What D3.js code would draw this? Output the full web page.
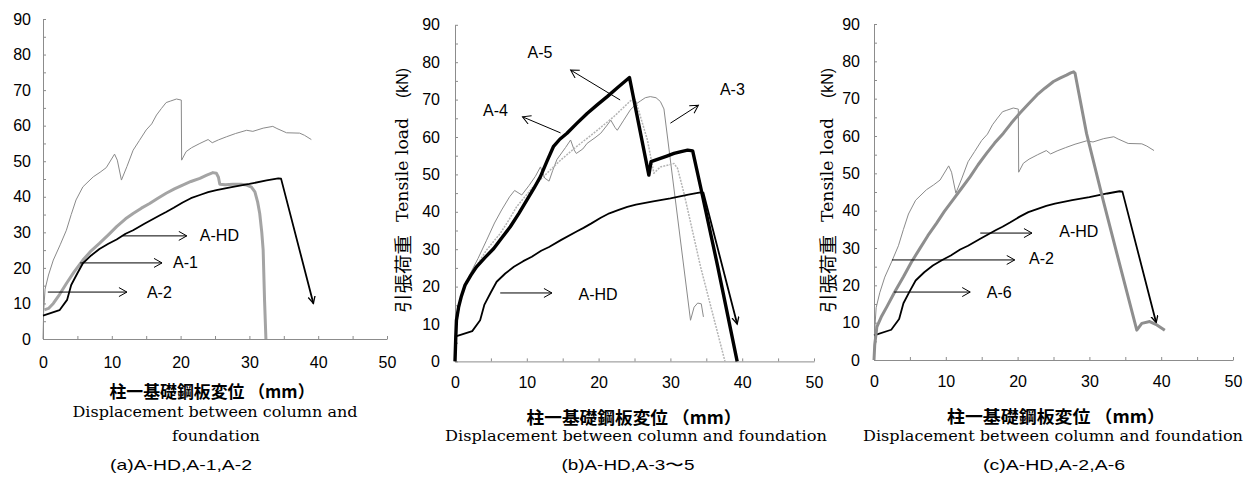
<!DOCTYPE html>
<html><head><meta charset="utf-8">
<script src="https://cdn.jsdelivr.net/npm/d3@7"></script>
<style>body{margin:0;background:#fff}svg{display:block}</style>
</head><body>
<svg id="c" width="1245" height="477"></svg>
<script>
// ---------- data ----------
const xTickValues = [0,5,10,15,20,25,30,35,40,45,50];
const xTickLabels = [0,10,20,30,40,50];
const yTickValues = [0,5,10,15,20,25,30,35,40,45,50,55,60,65,70,75,80,85,90];
const yTickLabels = [0,10,20,30,40,50,60,70,80,90];

// A-HD (same specimen in every panel)
const seriesAHD = [[0,6.6],[2.4,8.1],[3.5,11],[4.1,15.2],[5,18.5],[5.8,21.3],[7,23.5],[8.2,25.3],[9.5,26.8],[10.7,28],[12,29.6],[13.1,30.6],[14.8,32.5],[17,34.8],[17.9,35.7],[19,36.9],[20.3,38.4],[21.5,39.6],[22.8,40.5],[24,41.3],[25.2,41.9],[27.6,42.8],[30,43.6],[32.5,44.6],[34.2,45.2],[34.6,45.1],[39.3,10]];
const seriesA1 = [[0.2,8.2],[0.8,8.6],[1.5,10],[2.4,12.5],[3.4,15.6],[4.5,18.8],[5.8,22.2],[7,24.8],[8.2,26.9],[9.5,29.3],[10.7,31.6],[12,33.8],[13.1,35.3],[14.3,36.8],[15.5,38.1],[16.7,39.6],[17.9,41],[19.1,42.2],[20.3,43.3],[21.5,44.3],[22.8,45.2],[23.8,46.1],[24.7,46.8],[25.2,46.6],[25.5,45.5],[25.7,43.5],[26.5,43.4],[27.6,43.5],[28.8,43.5],[29.6,43.3],[30.3,42.7],[30.8,41.4],[31.2,38.5],[31.5,35.3],[31.8,30],[32,25],[32.2,11],[32.4,0]];
const seriesA2 = [[0,0],[0.1,8],[0.3,14],[0.8,18],[1.5,22.2],[2.5,26.5],[3.4,30.6],[4.1,35],[4.8,39.1],[5.8,42.8],[7.3,45.6],[8.3,46.9],[9.2,48.2],[10.4,52],[10.8,50.3],[11.4,44.7],[12.2,48.5],[13.1,53.1],[14,55.8],[15,58.8],[15.8,60.5],[16.5,63],[17.2,64.8],[17.9,66.5],[18.5,66.9],[19.4,67.5],[20.1,67.2],[20.15,50.3],[20.8,52.7],[21.6,53.8],[22.8,55],[24,56.1],[24.6,55.2],[25.5,56],[26.7,56.9],[28,57.8],[29.6,58.7],[30.5,58.4],[32,59.3],[33.4,59.8],[34,59.2],[35.4,58],[37.3,57.9],[38,57.3],[39,56.1]];
const seriesA3 = [[0,0],[0.2,10],[0.8,17],[2,23],[3.2,27.5],[4.4,32.4],[5.5,37],[6.5,40.5],[7.6,44],[8.3,45.7],[9.3,44.5],[10.3,47],[11.2,49.5],[11.9,52],[12.5,49],[13.1,48.2],[13.6,51],[14.2,54],[15.4,57.2],[16.1,59.2],[16.6,56.5],[16.9,55.6],[17.8,56.8],[18.4,58.3],[19.5,59.8],[20.3,61],[21.2,63.2],[21.7,64.5],[22.3,62.5],[22.6,61.8],[23.5,64.5],[24.4,67.2],[25.2,68.8],[25.8,69.6],[26.5,70.5],[27.2,70.8],[28,70.5],[28.6,69.5],[29.1,67.5],[32.8,11],[33.3,14.5],[33.8,15.6],[34.3,15.4],[34.6,11.9]];
const seriesA4 = [[0,0],[0.1,6],[0.2,11],[0.5,14.5],[0.9,17.5],[1.4,20.4],[2.2,23],[3,25.3],[4.2,27.8],[5.4,30.2],[6.5,33],[7.7,36],[8.9,39.6],[10,43.1],[11,46.3],[11.9,49.4],[12.8,53.5],[13.7,57.4],[14.6,59.4],[15.6,61],[17,63.7],[18.4,66.3],[19.8,68.6],[21.2,70.8],[22.7,73.3],[24.3,75.9],[27,49.8],[27.3,53.4],[28.2,54],[29.5,54.9],[30.5,55.6],[31.5,56.1],[32.4,56.5],[33.1,56.3],[34.2,46.7],[36.6,25.3],[39.3,0]];
const seriesA5 = [[0,0],[0.2,10],[0.8,17],[1.6,21.5],[2.8,25],[4.4,29.8],[6.3,34.2],[7.5,37.8],[8.6,41.4],[10.9,46.7],[12.8,50.3],[14.7,53.8],[16.9,57.4],[19.3,61],[22.1,65.4],[24.4,69.6],[24.9,70.5],[25.2,69.5],[26.8,59.2],[27.7,50.3],[28.6,52],[30.5,52.9],[31,51.6],[31.9,44.9],[34.2,25.3],[37.6,0]];
const seriesA6 = [[0,0],[0.1,4],[0.4,8.9],[1,11.5],[1.8,14.3],[2.9,18.3],[4.1,22.3],[5.2,26.2],[6.4,29.9],[7.5,33.3],[8.7,36.6],[9.8,39.8],[11,42.9],[12.2,46],[13.4,49.1],[14.5,52.3],[15.7,55.4],[16.8,58.1],[18,60.7],[19.1,63.4],[20.3,66.1],[21.5,68.6],[22.7,71],[23.8,72.8],[25,74.6],[25.9,75.5],[26.8,76.3],[27.4,76.9],[27.8,77.2],[28,76.8],[29.6,60.7],[31.9,42.9],[34.3,25],[36.6,8],[37.3,9.8],[38.4,10.3],[39.4,9.4],[40.5,8]];

// annotation labels: [text, textX, textY, arrowFromX, arrowFromY, arrowToX, arrowToY] in data units
const notesA = [["A-HD",22.8,29,11.6,29,20.9,29],["A-1",18.9,21.4,5.4,21.4,17.3,21.4],["A-2",15.1,13.2,0.7,13.2,12.2,13.2]];
const notesB = [["A-5",10.1,82.5,23,69.9,16.1,77.9],["A-4",3.9,67.2,14.7,61.1,9.4,65.4],["A-3",36.9,72.6,30,63.7,33.9,68.5],["A-HD",17.2,17.8,6.3,18.3,13.5,18.3]];
const notesC = [["A-HD",25.8,34.3,14.8,34,22,34],["A-2",21.6,27.3,2.5,26.8,19.6,26.8],["A-6",15.7,18.2,2.8,18.2,13.4,18.2]];

const xLabelJP = "柱一基礎鋼板変位 （mm）";
const xLabelEN = "Displacement between column and foundation";
const yLabelJP = "引張荷重", yLabelEN = "Tensile load", yLabelUnit = "(kN)";
const captions = ["(a)A-HD,A-1,A-2","(b)A-HD,A-3〜5","(c)A-HD,A-2,A-6"];

// ---------- styles / layout ----------
const ST = {
  hd:{stroke:"#000",w:1.8,end:true},
  thickGray:{stroke:"#a4a4a4",w:3},
  thinGray:{stroke:"#8a8a8a",w:1},
  thickBlack:{stroke:"#000",w:3.4},
  dotted:{stroke:"#b4b4b4",w:1.5,dash:"2,1.2"},
  midGray:{stroke:"#8e8e8e",w:3}
};
const SANS = "'Liberation Sans', Arial, sans-serif";
const SERIF = "'DejaVu Serif', 'Liberation Serif', serif";
const CJK = "'Noto Sans CJK JP', sans-serif";

const panels = [
  {xr:[43,387], yr:[339,19], yPad:12, xPad:18,
   series:[[seriesA2,ST.thinGray],[seriesA1,ST.thickGray],[seriesAHD,ST.hd]], notes:notesA,
   jp:{x:212,y:390,len:205}, en:[{t:"Displacement between column and",x:215,y:417,len:285},{t:"foundation",x:216,y:441,len:88}],
   cap:{x:181,y:470,len:142}, ylab:null},
  {xr:[455,814], yr:[361.4,24.8], yPad:15, xPad:15,
   series:[[seriesA3,ST.thinGray],[seriesA5,ST.dotted],[seriesA4,ST.thickBlack],[seriesAHD,ST.hd]], notes:notesB,
   jp:{x:634,y:416,len:215}, en:[{t:xLabelEN,x:636,y:441,len:382}],
   cap:{x:628,y:470,len:133}, ylab:402},
  {xr:[874,1233], yr:[360,24], yPad:14, xPad:16,
   series:[[seriesA2,ST.thinGray],[seriesAHD,ST.hd],[seriesA6,ST.midGray]], notes:notesC,
   jp:{x:1056,y:415,len:218}, en:[{t:xLabelEN,x:1053,y:441,len:380}],
   cap:{x:1054,y:470,len:142}, ylab:827}
];

const svg = d3.select("#c");
const defs = svg.append("defs");
defs.append("marker").attr("id","open").attr("markerUnits","userSpaceOnUse")
  .attr("markerWidth",12).attr("markerHeight",12).attr("refX",9).attr("refY",5)
  .attr("orient","auto").append("path").attr("d","M1,0.5 L9,5 L1,9.5")
  .attr("fill","none").attr("stroke","#000").attr("stroke-width",1);
defs.append("marker").attr("id","endArrow").attr("markerUnits","userSpaceOnUse")
  .attr("markerWidth",10).attr("markerHeight",10).attr("refX",7).attr("refY",4)
  .attr("orient","auto").append("path").attr("d","M0,0.5 L7,4 L0,7.5")
  .attr("fill","none").attr("stroke","#000").attr("stroke-width",1.3);

panels.forEach((p,i)=>{
  const x = d3.scaleLinear().domain([0,50]).range(p.xr);
  const y = d3.scaleLinear().domain([0,90]).range(p.yr);
  const g = svg.append("g");

  const yAxis = d3.axisLeft(y).tickValues(yTickValues)
    .tickFormat(d=>yTickLabels.includes(d)?d:"").tickSizeInner(-3).tickSizeOuter(0).tickPadding(p.yPad);
  const xAxis = d3.axisBottom(x).tickValues(xTickValues)
    .tickFormat(d=>xTickLabels.includes(d)?d:"").tickSizeInner(-3).tickSizeOuter(0).tickPadding(p.xPad);
  const ga = g.append("g").attr("transform",`translate(${p.xr[0]},0)`).call(yAxis);
  const gb = g.append("g").attr("transform",`translate(0,${p.yr[0]})`).call(xAxis);
  [ga,gb].forEach(a=>{
    a.select(".domain").attr("stroke","#8c8c8c").attr("stroke-width",1);
    a.selectAll(".tick line").attr("stroke","#8c8c8c");
    a.selectAll("text").attr("font-family",SANS).attr("font-size",16).attr("fill","#000");
  });

  const line = d3.line().x(d=>x(d[0])).y(d=>y(d[1]));
  p.series.forEach(([data,s])=>{
    const path = g.append("path").attr("d",line(data)).attr("fill","none")
      .attr("stroke",s.stroke).attr("stroke-width",s.w).attr("stroke-linejoin","round");
    if (s.dash) path.attr("stroke-dasharray",s.dash);
    if (s.end) path.attr("marker-end","url(#endArrow)");
  });

  p.notes.forEach(n=>{
    g.append("line").attr("x1",x(n[3])).attr("y1",y(n[4])).attr("x2",x(n[5])).attr("y2",y(n[6]))
      .attr("stroke","#000").attr("stroke-width",1).attr("marker-end","url(#open)");
    g.append("text").attr("x",x(n[1])).attr("y",y(n[2])).attr("dominant-baseline","central")
      .attr("font-family",SANS).attr("font-size",16).text(n[0]);
  });

  g.append("text").attr("x",p.jp.x).attr("y",p.jp.y).attr("text-anchor","middle").attr("dominant-baseline","central")
    .attr("font-family",CJK).attr("font-weight","bold").attr("font-size",17)
    .attr("textLength",p.jp.len).attr("lengthAdjust","spacingAndGlyphs").text(xLabelJP);
  p.en.forEach(e=>{
    g.append("text").attr("x",e.x).attr("y",e.y).attr("text-anchor","middle")
      .attr("font-family",SERIF).attr("font-size",15)
      .attr("textLength",e.len).attr("lengthAdjust","spacingAndGlyphs").text(e.t);
  });
  g.append("text").attr("x",p.cap.x).attr("y",p.cap.y).attr("text-anchor","middle")
    .attr("font-family",SANS).attr("font-size",15)
    .attr("textLength",p.cap.len).attr("lengthAdjust","spacingAndGlyphs").text(captions[i]);

  if (p.ylab){
    const parts = [[yLabelJP,274,78,CJK,18],[yLabelEN,170,104,SERIF,16],[yLabelUnit,83,30,SANS,16]];
    parts.forEach(q=>{
      g.append("text").attr("transform",`translate(${p.ylab},${q[1]}) rotate(-90)`)
        .attr("text-anchor","middle").attr("dominant-baseline","central")
        .attr("font-family",q[3]).attr("font-size",q[4])
        .attr("textLength",q[2]).attr("lengthAdjust","spacingAndGlyphs").text(q[0]);
    });
  }
});
</script>
</body></html>
